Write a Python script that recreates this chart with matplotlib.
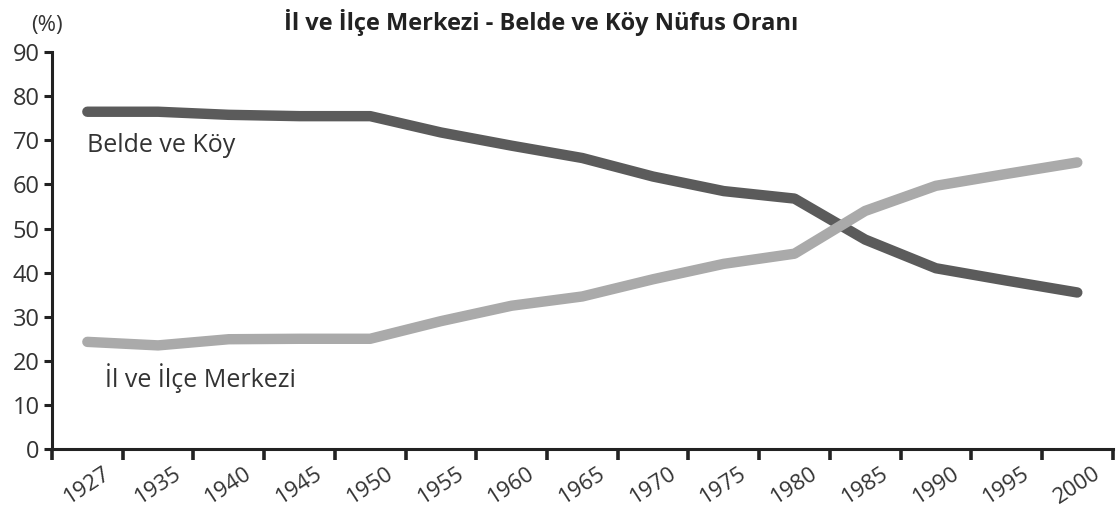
import numpy as np
import matplotlib.pyplot as plt

plt.rcParams['font.family'] = ['Open Sans', 'DejaVu Sans']

# ===== veri =====
years = ['1927', '1935', '1940', '1945', '1950', '1955', '1960', '1965',
         '1970', '1975', '1980', '1985', '1990', '1995', '2000']
belde_koy = [76.5, 76.5, 75.8, 75.5, 75.5, 71.8, 68.8, 66.0,
             61.8, 58.5, 56.8, 47.5, 41.0, 38.2, 35.5]
il_ilce = [24.3, 23.5, 24.9, 25.0, 25.0, 29.0, 32.5, 34.6,
           38.5, 42.0, 44.3, 54.0, 59.7, 62.4, 65.0]

x = np.arange(len(years))

fig = plt.figure(figsize=(11.16, 5.07), dpi=100)
ax = fig.add_axes([0.0466, 0.1144, 0.9504, 0.7826])

ax.plot(x, belde_koy, color='#5b5b5b', lw=7.5, solid_capstyle='round',
        solid_joinstyle='round')
ax.plot(x, il_ilce, color='#aaaaaa', lw=7.5, solid_capstyle='round',
        solid_joinstyle='round')

ax.set_xlim(-0.5, len(years) - 0.5)
ax.set_ylim(0, 90)

# spines
for s in ['top', 'right']:
    ax.spines[s].set_visible(False)
for s in ['left', 'bottom']:
    ax.spines[s].set_linewidth(2.2)
    ax.spines[s].set_color('#222222')

# y ekseni
ax.set_yticks(np.arange(0, 91, 10))
ax.tick_params(axis='y', length=6, width=2.2, color='#222222',
               labelsize=17, labelcolor='#333333', pad=3)

# x ekseni: çentikler kategori sınırlarında, etiketler ortada
ax.set_xticks(np.arange(-0.5, len(years), 1.0))
ax.set_xticklabels([])
ax.set_xticks(x, minor=True)
ax.set_xticklabels(years, minor=True, rotation=33, fontsize=16,
                   color='#333333')
ax.tick_params(axis='x', which='major', length=8, width=2.6,
               color='#222222', direction='out')
ax.tick_params(axis='x', which='minor', length=0, pad=10)

# etiketler
ax.text(0.0, 68.8, 'Belde ve Köy', fontsize=18, color='#333333',
        va='center', ha='left')
ax.text(0.25, 16.0, 'İl ve İlçe Merkezi', fontsize=18, color='#333333',
        va='center', ha='left')

fig.text(0.485, 0.955, 'İl ve İlçe Merkezi - Belde ve Köy Nüfus Oranı',
         fontsize=17, fontweight='bold', color='#222222',
         ha='center', va='center')
fig.text(0.042, 0.950, '(%)', fontsize=16, color='#333333',
         ha='center', va='center')

fig.savefig('out.png', dpi=100)
